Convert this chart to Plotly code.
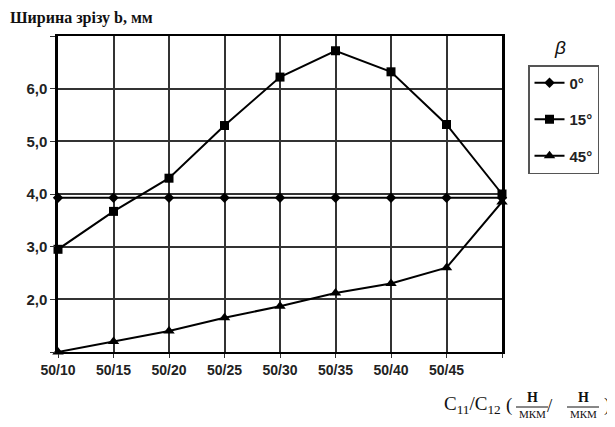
import plotly.graph_objects as go

categories = ["50/10", "50/15", "50/20", "50/25", "50/30", "50/35", "50/40", "50/45", ""]
beta_0 = [3.93, 3.93, 3.93, 3.93, 3.93, 3.93, 3.93, 3.93, 3.93]
beta_15 = [2.95, 3.67, 4.3, 5.3, 6.22, 6.72, 6.32, 5.32, 4.0]
beta_45 = [1.0, 1.2, 1.4, 1.65, 1.87, 2.12, 2.3, 2.6, 3.85]
y_ticks = [1, 2, 3, 4, 5, 6, 7]
y_ticklabels = ["", "2,0", "3,0", "4,0", "5,0", "6,0", ""]

x = list(range(len(categories)))

W, H = 615, 427
L, R, T, B = 50, 121, 28, 83
PW, PH = W - L - R, H - T - B


def px(xp):
    return (xp - L) / PW


def py(yp):
    return (H - B - yp) / PH


fig = go.Figure()
series = [("0°", beta_0, "diamond", 8), ("15°", beta_15, "square", 9), ("45°", beta_45, "triangle-up", 10)]
for name, vals, sym, sz in series:
    fig.add_trace(go.Scatter(
        x=x, y=vals, name="<b>%s</b>" % name, mode="lines+markers", legendgroup=name,
        line=dict(color="black", width=2),
        marker=dict(symbol=sym, size=sz, color="black"),
        cliponaxis=False,
    ))

fig.update_layout(
    width=W, height=H,
    margin=dict(l=L, r=R, t=T, b=B, autoexpand=False),
    paper_bgcolor="white", plot_bgcolor="white",
    font=dict(family="Liberation Sans", size=13, color="#222"),
    legend=dict(
        x=px(520), y=py(57), xanchor="left", yanchor="top",
        bordercolor="#555", borderwidth=1.5,
        font=dict(family="Liberation Sans", size=15, color="#222"),
        tracegroupgap=14, itemwidth=30,
    ),
    xaxis=dict(
        range=[0, 8], tickvals=x, ticktext=["<b>%s</b>" % c for c in categories],
        tickangle=0,
        showgrid=True, gridcolor="#333", gridwidth=1.5,
        showline=True, linecolor="black", linewidth=2, mirror=True,
        ticks="outside", ticklen=4, tickcolor="#333", zeroline=False,
        tickfont=dict(size=14, family="Liberation Sans"),
    ),
    yaxis=dict(
        range=[1, 7], tickvals=y_ticks, ticktext=["<b>%s</b>" % t for t in y_ticklabels],
        showgrid=True, gridcolor="#333", gridwidth=1.5,
        showline=True, linecolor="black", linewidth=2.5, mirror=True,
        ticks="outside", ticklen=5, tickcolor="#333", zeroline=False,
        tickfont=dict(size=15, family="Liberation Sans"),
    ),
)

# axis titles
fig.add_annotation(xref="paper", yref="paper", x=px(0), y=py(10), xanchor="left", yanchor="middle",
                   text="<b>Ширина зрізу b, мм</b>", showarrow=False,
                   font=dict(family="Liberation Serif", size=16, color="#111"))
fig.add_annotation(xref="paper", yref="paper", x=px(552), y=py(40), xanchor="center", yanchor="middle",
                   text="<i>β</i>", showarrow=False,
                   font=dict(family="Liberation Sans", size=19, color="#111"))

# x-axis title with fractions
serif = dict(family="Liberation Serif", size=19, color="#111")
fig.add_annotation(xref="paper", yref="paper", x=px(495), y=py(397), xanchor="right", yanchor="middle",
                   text="C<sub>11</sub>/C<sub>12</sub>", showarrow=False, font=serif)
fig.add_annotation(xref="paper", yref="paper", x=px(501), y=py(397), xanchor="center", yanchor="middle",
                   text="(", showarrow=False, font=serif)
fig.add_annotation(xref="paper", yref="paper", x=px(599), y=py(397), xanchor="center", yanchor="middle",
                   text=")", showarrow=False, font=serif)
fig.add_annotation(xref="paper", yref="paper", x=px(542), y=py(397), xanchor="center", yanchor="middle",
                   text="/", showarrow=False, font=serif)
for cx in [524, 575]:
    fig.add_annotation(xref="paper", yref="paper", x=px(cx), y=py(390), xanchor="center", yanchor="middle",
                       text="<b>Н</b>", showarrow=False, font=dict(family="Liberation Serif", size=14, color="#111"))
    fig.add_annotation(xref="paper", yref="paper", x=px(cx), y=py(406), xanchor="center", yanchor="middle",
                       text="МКМ", showarrow=False, font=dict(family="Liberation Serif", size=11, color="#111"))
    fig.add_shape(type="line", xref="paper", yref="paper", x0=px(cx - 16), x1=px(cx + 16),
                  y0=py(399), y1=py(399), line=dict(color="#111", width=1))

fig.write_html("out.html")
